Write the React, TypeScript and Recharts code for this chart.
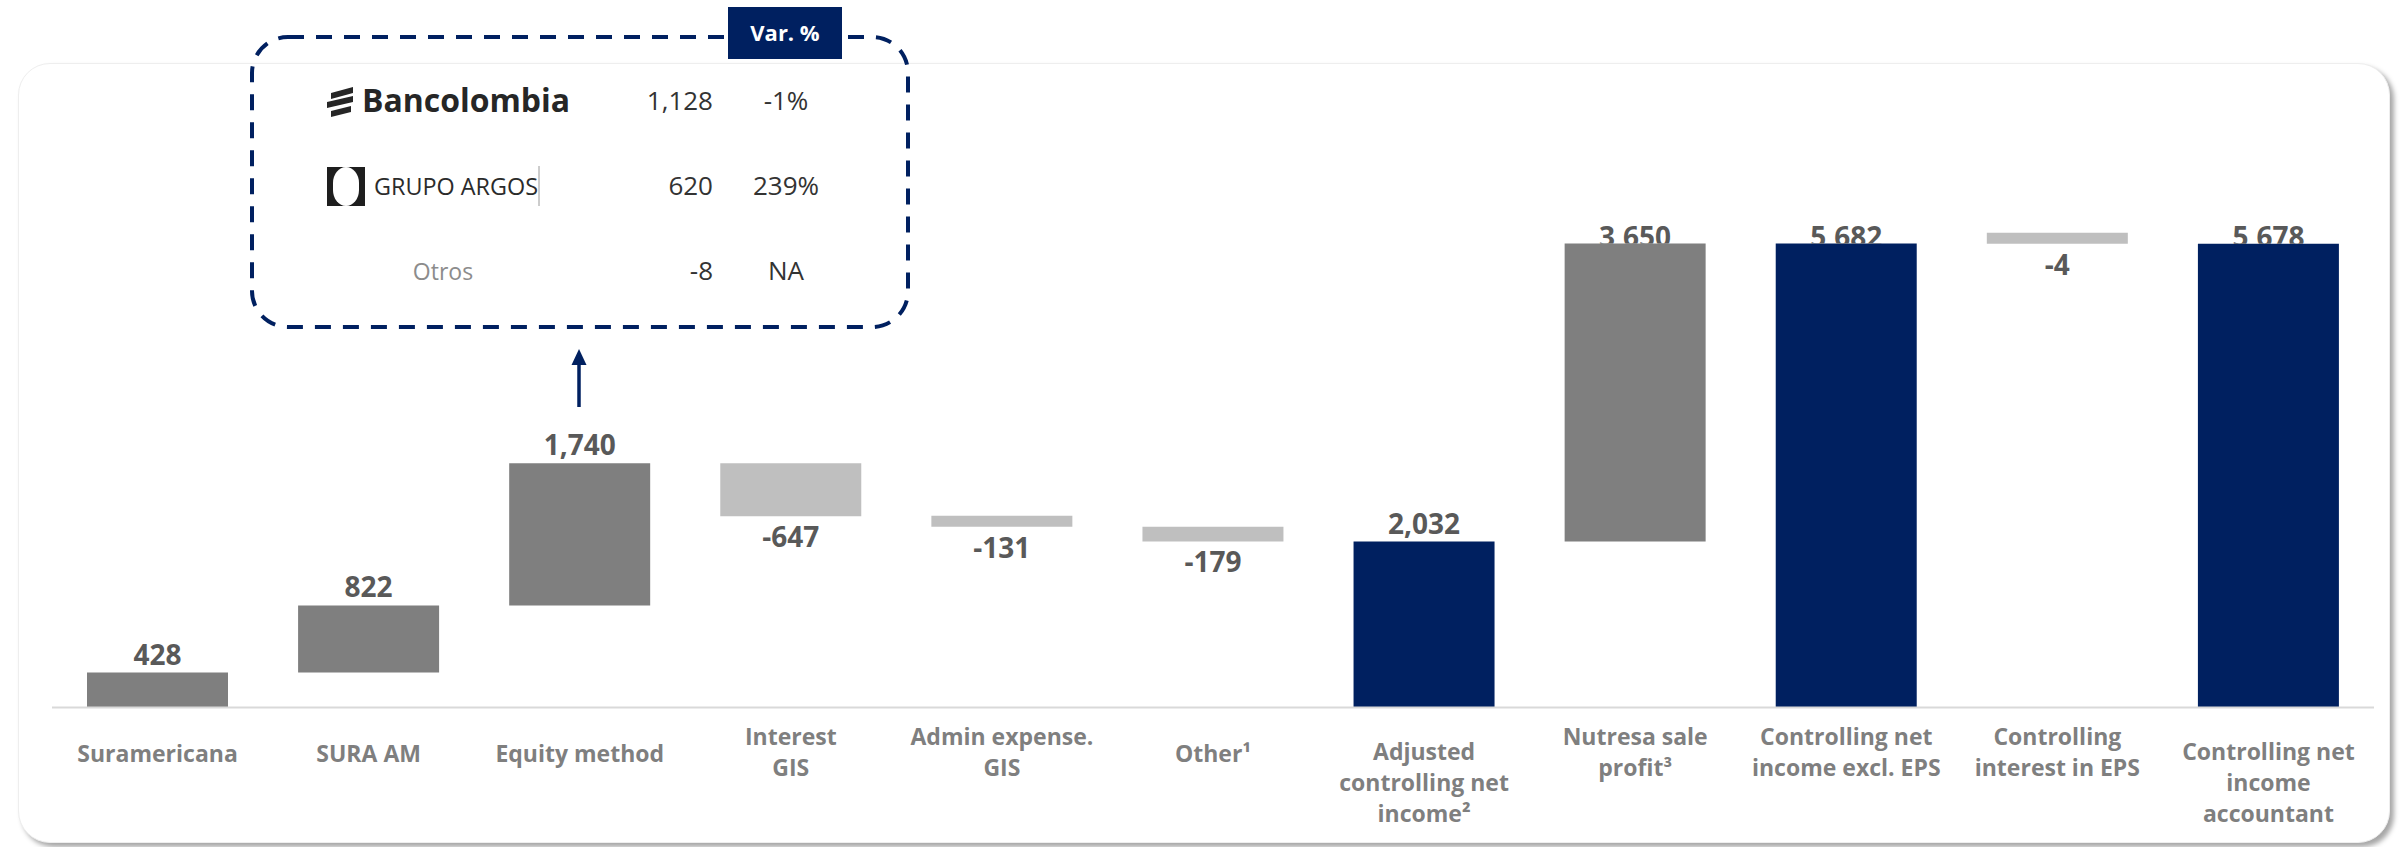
import React from 'react';
import { BarChart, Bar, XAxis, YAxis, Cell, LabelList } from 'recharts';

// ---------- data ----------
const categories = [
  'Suramericana',
  'SURA AM',
  'Equity method',
  'Interest\nGIS',
  'Admin expense.\nGIS',
  'Other¹',
  'Adjusted\ncontrolling net\nincome²',
  'Nutresa sale\nprofit³',
  'Controlling net\nincome excl. EPS',
  'Controlling\ninterest in EPS',
  'Controlling net\nincome\naccountant',
];
const values = [428, 822, 1740, -647, -131, -179, 2032, 3650, 5682, -4, 5678];
const isTotal = [false, false, false, false, false, false, true, false, true, false, true];

const tableCompanies = ['Bancolombia', 'GRUPO ARGOS', 'Otros'];
const tableValues = ['1,128', '620', '-8'];
const tableVar = ['-1%', '239%', 'NA'];
const tableHeader = 'Var. %';

// ---------- styles ----------
const FONT = "'Open Sans', 'DejaVu Sans', sans-serif";
const NAVY = '#002060';
const COLORS: Record<string, string> = { total: NAVY, up: '#7f7f7f', down: '#bfbfbf' };

type Row = { name: string; range: [number, number]; value: number; kind: string };
let run = 0;
const data: Row[] = categories.map((name, i) => {
  const v = values[i];
  let range: [number, number];
  let kind: string;
  if (isTotal[i]) {
    range = [0, v];
    run = v;
    kind = 'total';
  } else {
    const a = run;
    const b = run + v;
    range = [Math.min(a, b), Math.max(a, b)];
    run = b;
    kind = v >= 0 ? 'up' : 'down';
  }
  return { name, range, value: v, kind };
});

const fmt = (v: number) => (v < 0 ? '-' : '') + Math.abs(v).toLocaleString('en-US');

const ValueLabel = (props: any) => {
  const vb = props.viewBox || {};
  const x = props.x ?? vb.x;
  const y = props.y ?? vb.y;
  const width = props.width ?? vb.width;
  const height = props.height ?? vb.height;
  const index = props.index;
  const d = data[index];
  if (!d) return null;
  const cx = x + width / 2;
  const top = Math.min(y, y + height);
  const bottom = Math.max(y, y + height);
  const common = {
    textAnchor: 'middle' as const,
    fontFamily: FONT,
    fontWeight: 700,
    fontSize: 28,
    fill: '#595959',
  };
  if (d.kind === 'down') {
    return (
      <text x={cx} y={bottom + 31} {...common}>
        {fmt(d.value)}
      </text>
    );
  }
  const base = Math.max(top - 8, 247);
  const id = `lblclip${index}`;
  return (
    <g>
      <defs>
        <clipPath id={id}>
          <rect x={cx - 150} y={0} width={300} height={top} />
        </clipPath>
      </defs>
      <text x={cx} y={base} clipPath={`url(#${id})`} {...common}>
        {fmt(d.value)}
      </text>
    </g>
  );
};

const CategoryTick = (props: any) => {
  const { x, y, payload } = props;
  const lines: string[] = String(payload.value).split('\n');
  const step = 31;
  let first: number;
  if (lines.length === 1) first = 54.5;
  else if (lines.length === 2) first = 37.5;
  else first = 52.5;
  return (
    <g>
      {lines.map((ln, i) => (
        <text
          key={i}
          x={x}
          y={y + first + i * step}
          textAnchor="middle"
          fontFamily={FONT}
          fontWeight={700}
          fontSize={23}
          fill="#7f7f7f"
        >
          {ln}
        </text>
      ))}
    </g>
  );
};

const BancolombiaMark = () => (
  <g fill="#262626">
    <polygon points="331,93 353,87 353,93 331,99" />
    <polygon points="327,102 353,96 353,102 327,108" />
    <polygon points="331,111 351,106 351,112 331,117" />
  </g>
);

const ArgosMark = () => (
  <g>
    <rect x={327} y={167} width={38} height={39} fill="#1e1e1e" />
    <rect x={333} y={167} width={26} height={39} rx={13} ry={16} fill="#ffffff" />
    <line x1={539} y1={166} x2={539} y2={206} stroke="#9a9a9a" strokeWidth={1} />
  </g>
);

export default function App() {
  return (
    <div
      style={{
        position: 'fixed',
        left: 0,
        top: 0,
        width: 2403,
        height: 847,
        overflow: 'hidden',
        background: '#ffffff',
      }}
    >
      {/* card */}
      <div
        style={{
          position: 'absolute',
          left: 18,
          top: 63,
          width: 2372,
          height: 780,
          borderRadius: 32,
          border: '1.5px solid #eeeeee',
          boxShadow: '4px 4px 5px rgba(0,0,0,0.35)',
          background: '#ffffff',
          boxSizing: 'border-box',
        }}
      />
      <div style={{ position: 'absolute', left: 0, top: 0 }}>
        <BarChart
          width={2403}
          height={847}
          data={data}
          margin={{ top: 217.5, right: 29, bottom: 39.5, left: 52 }}
        >
          <YAxis hide type="number" domain={[0, 6000]} />
          <XAxis
            dataKey="name"
            height={100}
            axisLine={{ stroke: '#d9d9d9', strokeWidth: 2 }}
            tickLine={false}
            tickSize={0}
            tickMargin={0}
            interval={0}
            tick={<CategoryTick />}
          />
          <Bar dataKey="range" isAnimationActive={false} barSize={141} minPointSize={11}>
            {data.map((d, i) => (
              <Cell key={i} fill={COLORS[d.kind]} />
            ))}
            <LabelList dataKey="value" content={<ValueLabel />} />
          </Bar>
        </BarChart>
      </div>
      {/* annotation */}
      <svg
        width={2403}
        height={847}
        style={{ position: 'absolute', left: 0, top: 0, pointerEvents: 'none' }}
      >
        <rect
          x={252}
          y={37}
          width={656}
          height={290}
          rx={36}
          fill="none"
          stroke={NAVY}
          strokeWidth={4}
          strokeDasharray="16 12"
        />
        <rect x={728} y={7} width={114} height={52} fill={NAVY} />
        <text x={785} y={41} textAnchor="middle" fontFamily={FONT} fontWeight={700} fontSize={22} fill="#ffffff">
          {tableHeader}
        </text>

        <BancolombiaMark />
        <text
          x={362}
          y={112}
          fontFamily={FONT}
          fontWeight={700}
          fontSize={32}
          fill="#262626"
          textLength={208}
          lengthAdjust="spacingAndGlyphs"
        >
          {tableCompanies[0]}
        </text>
        <ArgosMark />
        <text
          x={374}
          y={195}
          fontFamily={FONT}
          fontSize={23}
          fill="#2b2b2b"
          textLength={164}
          lengthAdjust="spacingAndGlyphs"
        >
          {tableCompanies[1]}
        </text>
        <text x={443} y={280} textAnchor="middle" fontFamily={FONT} fontSize={23} fill="#8c8c8c">
          {tableCompanies[2]}
        </text>

        {tableValues.map((v, i) => (
          <text
            key={'v' + i}
            x={713}
            y={[110, 195, 280][i]}
            textAnchor="end"
            fontFamily={FONT}
            fontSize={26}
            fill="#333333"
          >
            {v}
          </text>
        ))}
        {tableVar.map((v, i) => (
          <text
            key={'p' + i}
            x={786}
            y={[110, 195, 280][i]}
            textAnchor="middle"
            fontFamily={FONT}
            fontSize={26}
            fill="#333333"
          >
            {v}
          </text>
        ))}

        <line x1={579} y1={407} x2={579} y2={362} stroke={NAVY} strokeWidth={3.5} />
        <polygon points="579,349 571.5,365 586.5,365" fill={NAVY} />
      </svg>
    </div>
  );
}
